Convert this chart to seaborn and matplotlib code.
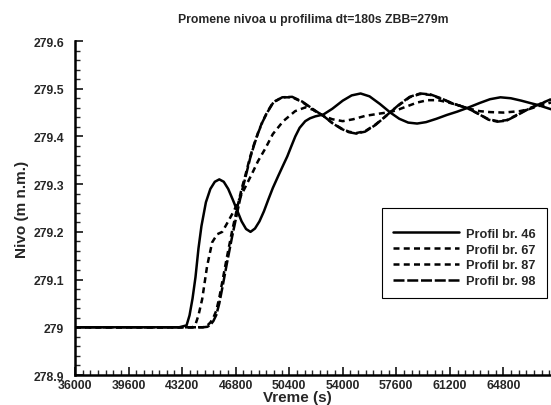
import numpy as np
import pandas as pd
import matplotlib
matplotlib.use("Agg")
import matplotlib.pyplot as plt
from matplotlib.ticker import AutoMinorLocator
import seaborn as sns

# Water level (m a.s.l.) at four cross-sections vs. time (s)
t_46 = [36000, 43000, 43500, 43700, 43900, 44100, 44300, 44500, 44800, 45100,
        45400, 45700, 46000, 46300, 46600, 46900, 47200, 47500, 47800, 48100,
        48400, 48700, 49000, 49300, 49660, 50000, 50270, 50550, 50810, 51100,
        51480, 51800, 52150, 52700, 53300, 54000, 54600, 55200, 55800, 56500,
        57200, 57800, 58400, 59000, 59600, 60300, 61000, 61700, 62400, 63200,
        63900, 64600, 65300, 66000, 66600, 67100, 68000]
z_46 = [279.000, 279.000, 279.004, 279.025, 279.060, 279.105, 279.165, 279.212,
        279.262, 279.290, 279.305, 279.310, 279.305, 279.290, 279.268, 279.245,
        279.222, 279.206, 279.200, 279.207, 279.222, 279.243, 279.268, 279.292,
        279.317, 279.340, 279.358, 279.380, 279.400, 279.418, 279.432, 279.438,
        279.442, 279.446, 279.458, 279.475, 279.486, 279.490, 279.484, 279.468,
        279.450, 279.437, 279.429, 279.427, 279.430, 279.437, 279.445, 279.452,
        279.460, 279.470, 279.478, 279.482, 279.480, 279.475, 279.470, 279.466,
        279.457]

t_67 = [36000, 43900, 44100, 44300, 44550, 44880, 45220, 45560, 45900, 46300,
        46700, 47100, 47500, 47900, 48300, 48800, 49300, 50000, 50800, 51500,
        52000, 52700, 53300, 54000, 54700, 55500, 56500, 57200, 57800, 58400,
        59000, 59700, 60400, 61000, 61700, 62400, 63200, 63900, 64800, 65900,
        66500, 67100, 68000]
z_67 = [279.000, 279.000, 279.006, 279.025, 279.059, 279.128, 279.178, 279.195,
        279.200, 279.222, 279.245, 279.272, 279.297, 279.322, 279.348, 279.375,
        279.405, 279.432, 279.453, 279.461, 279.456, 279.443, 279.436, 279.432,
        279.436, 279.443, 279.448, 279.451, 279.457, 279.464, 279.471, 279.476,
        279.476, 279.472, 279.466, 279.459, 279.453, 279.451, 279.450, 279.453,
        279.457, 279.463, 279.471]

t_far = [36000, 44600, 44900, 45100, 45300, 45500, 45700, 45900, 46200, 46550,
         46900, 47200, 47440, 47780, 48050, 48320, 48600, 48920, 49330, 49930,
         50600, 51280, 52150, 52700, 53300, 53900, 54400, 54900, 55500, 56200,
         56800, 57200, 57800, 58500, 59200, 59900, 60600, 61400, 62400, 63200,
         63800, 64400, 65000, 65700, 66400, 67100, 68000]
z_87 = [279.000, 279.000, 279.004, 279.010, 279.020, 279.035, 279.062, 279.095,
        279.145, 279.200, 279.250, 279.290, 279.317, 279.358, 279.385, 279.409,
        279.431, 279.451, 279.472, 279.482, 279.482, 279.472, 279.453, 279.443,
        279.428, 279.417, 279.410, 279.407, 279.411, 279.425, 279.440, 279.451,
        279.466, 279.482, 279.489, 279.487, 279.479, 279.469, 279.459, 279.446,
        279.436, 279.432, 279.434, 279.445, 279.457, 279.466, 279.477]
z_98 = [279.000, 279.000, 279.001, 279.005, 279.013, 279.026, 279.050, 279.082,
        279.132, 279.188, 279.240, 279.283, 279.312, 279.355, 279.383, 279.408,
        279.430, 279.450, 279.471, 279.482, 279.483, 279.473, 279.454, 279.443,
        279.428, 279.416, 279.409, 279.406, 279.410, 279.424, 279.440, 279.451,
        279.467, 279.483, 279.490, 279.488, 279.480, 279.469, 279.459, 279.446,
        279.435, 279.431, 279.433, 279.444, 279.456, 279.466, 279.478]

labels = ["Profil br. 46", "Profil br. 67", "Profil br. 87", "Profil br. 98"]
x_ticks = [36000, 39600, 43200, 46800, 50400, 54000, 57600, 61200, 64800]
y_ticks = [278.9, 279.0, 279.1, 279.2, 279.3, 279.4, 279.5, 279.6]
y_tick_labels = ["278.9", "279", "279.1", "279.2", "279.3", "279.4", "279.5", "279.6"]

frames = []
for lab, tt, zz in zip(labels, [t_46, t_67, t_far, t_far], [z_46, z_67, z_87, z_98]):
    frames.append(pd.DataFrame({"Vreme": tt, "Nivo": zz, "Profil": lab}))
df = pd.concat(frames, ignore_index=True)

sns.set_style("ticks")
plt.rcParams["font.family"] = ["Liberation Sans", "DejaVu Sans"]
plt.rcParams["font.weight"] = "bold"

lw = 1.8
dash_styles = {
    "Profil br. 46": "",
    "Profil br. 67": (2.4, 1.7),
    "Profil br. 87": (2.4, 1.7),
    "Profil br. 98": (4.4, 1.1),
}

fig = plt.figure(figsize=(5.51, 4.06), dpi=100)
ax = fig.add_axes([75 / 551, 30 / 406, 1 - 75 / 551, (376 - 42) / 406])

sns.lineplot(data=df, x="Vreme", y="Nivo", hue="Profil", style="Profil",
             palette=["black"] * 4, dashes=dash_styles, linewidth=lw,
             estimator=None, sort=False, ax=ax, legend=True)

ax.set_xlim(36000, 68000)
ax.set_ylim(278.9, 279.6)
ax.set_xticks(x_ticks)
ax.set_xticklabels([str(v) for v in x_ticks])
ax.set_yticks(y_ticks)
ax.set_yticklabels(y_tick_labels)
ax.xaxis.set_minor_locator(AutoMinorLocator(7))
ax.yaxis.set_minor_locator(AutoMinorLocator(5))
ax.tick_params(axis="x", which="major", direction="in", length=6, width=1.3,
               labelsize=8.8, pad=3)
ax.tick_params(axis="y", which="major", direction="in", length=6, width=1.3,
               labelsize=8.8, pad=8)
ax.tick_params(axis="both", which="minor", direction="in", length=3.5, width=1.0)
for lbl in ax.get_xticklabels() + ax.get_yticklabels():
    lbl.set_fontweight("bold")

for side in ("top", "right"):
    ax.spines[side].set_visible(False)
for side in ("left", "bottom"):
    ax.spines[side].set_linewidth(1.8)
    ax.spines[side].set_color("black")

ax.set_xlabel("Vreme (s)", fontsize=11, fontweight="bold")
ax.xaxis.set_label_coords((297 - 75) / 476, -0.045)
ax.set_ylabel("Nivo (m n.m.)", fontsize=11, fontweight="bold", labelpad=3)
ax.set_title("Promene nivoa u profilima dt=180s ZBB=279m", fontsize=8.8,
             fontweight="bold", pad=14)

handles, labs = ax.get_legend_handles_labels()
leg = ax.legend(handles, labs, loc="upper left", bbox_to_anchor=(0.645, 0.5),
                borderaxespad=0, frameon=True, fancybox=False, framealpha=1,
                edgecolor="black", prop={"size": 9.2, "weight": "bold"},
                handlelength=5.2, handletextpad=0.55, labelspacing=0.3,
                borderpad=0.85, title=" ", title_fontsize=4)
leg.get_frame().set_linewidth(0.8)
for h in leg.legend_handles:
    h.set_linewidth(lw)

fig.savefig("out.png", dpi=100)
